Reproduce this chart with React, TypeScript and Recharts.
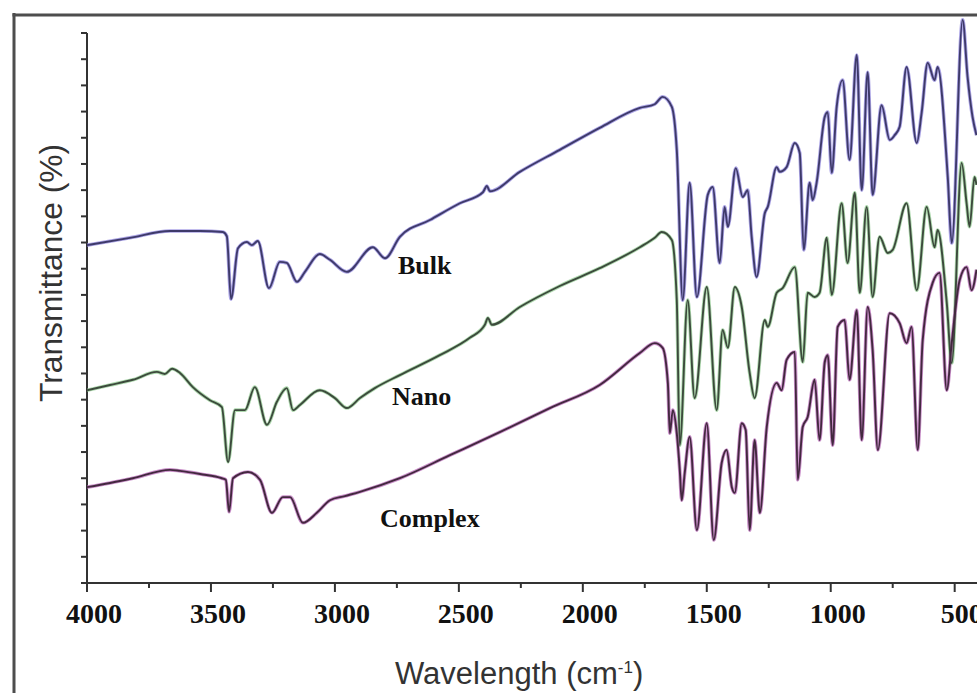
import { LineChart, Line, XAxis, YAxis, ReferenceLine } from 'recharts';

// FTIR spectra, [wavenumber (cm-1), transmittance (arb. %)]
const bulk: [number, number][] = [
  [4000, 64.5], [3827, 65.9], [3665, 67.2], [3544, 67.2], [3452, 67.0], [3436, 66.2],
  [3419, 54.2], [3391, 63.9], [3355, 65.1], [3335, 64.5], [3311, 65.3], [3266, 56.3],
  [3222, 61.3], [3194, 61.1], [3153, 57.5], [3121, 59.4], [3061, 62.8], [3020, 61.7],
  [2952, 59.4], [2847, 64.1], [2798, 62.0], [2738, 66.1], [2617, 69.3], [2496, 72.5],
  [2403, 74.6], [2387, 75.8], [2375, 74.8], [2254, 78.5], [2093, 82.7], [1932, 86.9],
  [1770, 90.7], [1710, 91.4], [1678, 92.8], [1641, 90.9], [1621, 82.7], [1597, 54.0],
  [1569, 76.4], [1540, 54.6], [1496, 74.1], [1476, 75.6], [1448, 61.1], [1428, 71.8],
  [1415, 68.0], [1383, 79.2], [1355, 73.7], [1335, 75.0], [1319, 66.1], [1299, 58.4],
  [1266, 70.6], [1254, 71.8], [1218, 79.4], [1206, 78.5], [1178, 79.4], [1145, 84.0],
  [1125, 82.1], [1109, 63.6], [1085, 76.4], [1073, 73.1], [1057, 76.4], [1024, 89.0],
  [1012, 89.9], [996, 78.3], [976, 90.9], [952, 96.0], [924, 80.8], [895, 100.8],
  [875, 75.0], [851, 97.5], [831, 74.1], [795, 91.2], [762, 84.6], [742, 85.5],
  [722, 87.1], [694, 98.5], [653, 84.0], [633, 89.9], [609, 99.3], [581, 96.0],
  [569, 98.5], [528, 77.5], [512, 64.9], [468, 107.5], [448, 96.6], [428, 89.0], [412, 85.5],
];

const nano: [number, number][] = [
  [4000, 36.8], [3907, 37.8], [3815, 38.8], [3718, 40.3], [3686, 39.9], [3657, 40.9],
  [3625, 40.1], [3573, 37.4], [3504, 34.9], [3456, 33.6], [3431, 23.1], [3403, 33.0],
  [3363, 33.0], [3323, 37.4], [3274, 30.2], [3234, 34.6], [3194, 37.2], [3169, 33.0],
  [3141, 34.0], [3061, 36.8], [3000, 35.3], [2952, 33.4], [2899, 35.3], [2839, 37.2],
  [2738, 39.7], [2577, 43.5], [2456, 46.8], [2395, 49.3], [2383, 50.6], [2367, 49.3],
  [2254, 52.7], [2093, 56.7], [1932, 60.1], [1770, 64.1], [1710, 65.9], [1682, 67.0],
  [1641, 65.5], [1621, 54.0], [1609, 26.3], [1577, 54.0], [1549, 35.3], [1500, 56.5],
  [1460, 33.0], [1436, 48.3], [1415, 44.9], [1387, 56.5], [1359, 52.7], [1327, 40.1],
  [1307, 35.3], [1266, 50.2], [1254, 48.9], [1218, 55.4], [1194, 56.3], [1145, 60.3],
  [1113, 42.2], [1093, 55.4], [1065, 54.6], [1045, 55.4], [1016, 65.9], [996, 55.0],
  [956, 72.5], [932, 61.1], [903, 74.5], [883, 55.4], [855, 71.8], [831, 54.6],
  [803, 66.1], [770, 63.0], [750, 63.6], [694, 72.5], [653, 55.9], [613, 71.8],
  [581, 64.1], [569, 67.4], [532, 53.5], [512, 42.0], [472, 80.2], [452, 72.5],
  [440, 68.0], [420, 77.5], [412, 76.0],
];

const complex: [number, number][] = [
  [4000, 18.3], [3907, 19.1], [3815, 20.0], [3665, 21.6], [3625, 21.4], [3544, 20.8],
  [3456, 20.0], [3440, 19.7], [3427, 13.6], [3411, 20.0], [3351, 21.2], [3302, 19.7],
  [3254, 13.4], [3210, 16.4], [3181, 16.4], [3129, 11.5], [3073, 13.4], [3020, 15.8],
  [2960, 16.6], [2899, 17.4], [2738, 20.0], [2536, 24.4], [2335, 28.8], [2133, 33.4],
  [1932, 37.8], [1770, 43.9], [1710, 45.8], [1678, 44.9], [1657, 38.2], [1649, 28.6],
  [1637, 33.0], [1621, 28.6], [1609, 21.6], [1601, 15.8], [1589, 21.0], [1569, 27.9],
  [1540, 10.1], [1500, 30.5], [1472, 8.2], [1440, 22.9], [1420, 25.4], [1399, 18.3],
  [1387, 17.2], [1359, 30.5], [1343, 29.2], [1327, 10.1], [1307, 27.3], [1286, 13.4],
  [1258, 29.8], [1218, 38.2], [1198, 36.8], [1178, 42.6], [1145, 44.1], [1133, 19.7],
  [1113, 29.8], [1093, 31.7], [1065, 38.8], [1045, 27.3], [1024, 42.2], [1012, 43.5],
  [992, 26.3], [972, 48.9], [944, 50.2], [924, 38.8], [895, 52.1], [875, 27.3],
  [851, 52.7], [831, 44.5], [810, 25.4], [762, 51.5], [722, 49.6], [694, 45.8],
  [674, 48.9], [649, 25.4], [629, 46.4], [589, 57.3], [561, 59.2], [532, 36.8],
  [512, 45.8], [480, 57.8], [452, 60.3], [432, 55.9], [412, 59.8],
];

const xTicks = [4000, 3750, 3500, 3250, 3000, 2750, 2500, 2250, 2000, 1750, 1500, 1250, 1000, 750, 500];
const yTicks = [0, 5, 10, 15, 20, 25, 30, 35, 40, 45, 50, 55, 60, 65, 70, 75, 80, 85, 90, 95, 100, 105];

const toRows = (s: [number, number][]) => s.map(([w, t]) => ({ w, t }));

const series = [
  { name: 'Bulk', data: toRows(bulk), halo: '#8a80dc', core: '#3e3a6a' },
  { name: 'Nano', data: toRows(nano), halo: '#8cc88c', core: '#3c4a3c' },
  { name: 'Complex', data: toRows(complex), halo: '#b463b4', core: '#43283f' },
];

const serif = "'Liberation Serif', 'Times New Roman', serif";
const sans = "'Liberation Sans', Arial, sans-serif";

const XTick = (props: any) => {
  const { x, y, payload } = props;
  const major = payload.value % 500 === 0;
  return (
    <g>
      <line x1={x} x2={x} y1={y} y2={y + (major ? 9 : 5)} stroke="#333" strokeWidth={2} />
      {major && (
        <text x={x + 7} y={y + 40} textAnchor="middle" fontFamily={serif} fontWeight="bold" fontSize={28} fill="#111">
          {payload.value}
        </text>
      )}
    </g>
  );
};

const YTick = (props: any) => {
  const { x, y } = props;
  return <line x1={x - 6} x2={x} y1={y} y2={y} stroke="#333" strokeWidth={2} />;
};

const App = () => {
  return (
    <div style={{ position: 'fixed', left: 0, top: 0, width: 977, height: 693, background: '#fff', overflow: 'hidden' }}>
      <LineChart width={977} height={693} margin={{ top: 17.3, right: 0, bottom: 0, left: 0 }}>
        <XAxis
          dataKey="w"
          type="number"
          domain={[410, 4000]}
          reversed
          allowDataOverflow
          ticks={xTicks}
          interval={0}
          height={110}
          tickSize={0}
          tickMargin={0}
          tickLine={false}
          tick={XTick}
          axisLine={{ stroke: '#333', strokeWidth: 2 }}
        />
        <YAxis
          type="number"
          domain={[0, 108]}
          ticks={yTicks}
          interval={0}
          width={87}
          tickSize={0}
          tickMargin={0}
          tickLine={false}
          tick={YTick}
          axisLine={false}
        />
        <ReferenceLine segment={[{ x: 4000, y: 0 }, { x: 4000, y: 105 }]} stroke="#333" strokeWidth={2} />
        {series.map((s) => (
          <Line
            key={s.name + '-halo'}
            data={s.data}
            dataKey="t"
            type="monotone"
            stroke={s.halo}
            strokeWidth={3.6}
            strokeOpacity={0.7}
            dot={false}
            activeDot={false}
            isAnimationActive={false}
          />
        ))}
        {series.map((s) => (
          <Line
            key={s.name}
            name={s.name}
            data={s.data}
            dataKey="t"
            type="monotone"
            stroke={s.core}
            strokeWidth={1.9}
            dot={false}
            activeDot={false}
            isAnimationActive={false}
          />
        ))}
      </LineChart>
      <svg width={977} height={693} style={{ position: 'absolute', left: 0, top: 0, pointerEvents: 'none' }}>
        <line x1={14} x2={14} y1={13} y2={693} stroke="#4d4d4d" strokeWidth={3} />
        <line x1={12.5} x2={977} y1={15} y2={15} stroke="#4d4d4d" strokeWidth={3} />
        <text
          transform="translate(62,273) rotate(-90)"
          textAnchor="middle"
          fontFamily={sans}
          fontSize={31}
          textLength={258}
          lengthAdjust="spacingAndGlyphs"
          fill="#333"
        >
          Transmittance (%)
        </text>
        <text x={395} y={684} fontFamily={sans} fontSize={31} fill="#333">
          Wavelength (cm<tspan fontSize={17} dy={-11}>-1</tspan>
          <tspan dy={11}>)</tspan>
        </text>
        <text x={398} y={274} fontFamily={serif} fontWeight="bold" fontSize={26} fill="#111">Bulk</text>
        <text x={392} y={405} fontFamily={serif} fontWeight="bold" fontSize={26} fill="#111">Nano</text>
        <text x={380} y={527} fontFamily={serif} fontWeight="bold" fontSize={26} fill="#111">Complex</text>
      </svg>
    </div>
  );
};

export default App;
